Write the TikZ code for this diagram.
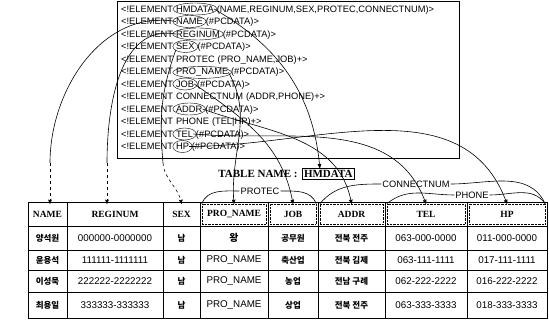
\documentclass[tikz,border=0pt]{standalone}
\usepackage{fontspec}
\setmainfont{Liberation Serif}
\setsansfont{Liberation Sans}
\newfontfamily\krfont{Noto Sans CJK KR}
\usepackage{tikz}
\usetikzlibrary{arrows,positioning,calc}

\begin{document}
\begin{tikzpicture}[x=1pt,y=1pt,>=stealth',
	dtd/.style={font=\sffamily\fontsize{9.3}{11}\selectfont,inner sep=0pt,anchor=west},
	head/.style={font=\bfseries\fontsize{9.5}{11}\selectfont,inner sep=0pt,minimum height=20pt},
	hbox/.style={head,draw,densely dotted},
	cell/.style={font=\sffamily\fontsize{9.8}{11}\selectfont,inner sep=0pt},
	kcell/.style={font=\krfont\bfseries\fontsize{8.5}{10}\selectfont,inner sep=0pt},
	brace/.style={font=\sffamily\fontsize{9.3}{11}\selectfont,inner sep=1pt},
	link/.style={->,semithick},
	dlink/.style={->,semithick,dashed}]
	
	\useasboundingbox (0,0) rectangle (549,-320);
	
	% DTD
	\draw[semithick] (117,-1) rectangle (459,-158);
	\node[dtd] (k1) at (121,-9) {<!ELEMENT};
	\node[dtd,base right=2.5pt of k1] (eHmdata) {HMDATA};
	\node[dtd,base right=2.5pt of eHmdata] (r1) {(NAME,REGINUM,SEX,PROTEC,CONNECTNUM)>};
	\node[dtd] (k2) at (121,-21.5) {<!ELEMENT};
	\node[dtd,base right=2.5pt of k2] (eName) {NAME};
	\node[dtd,base right=2.5pt of eName] (r2) {(\#PCDATA)>};
	\node[dtd] (k3) at (121,-34) {<!ELEMENT};
	\node[dtd,base right=2.5pt of k3] (eReg) {REGINUM};
	\node[dtd,base right=2.5pt of eReg] (r3) {(\#PCDATA)>};
	\node[dtd] (k4) at (121,-46.5) {<!ELEMENT};
	\node[dtd,base right=2.5pt of k4] (eSex) {SEX};
	\node[dtd,base right=2.5pt of eSex] (r4) {(\#PCDATA)>};
	\node[dtd] (k5) at (121,-59) {<!ELEMENT};
	\node[dtd,base right=2.5pt of k5] (eProtec) {PROTEC};
	\node[dtd,base right=2.5pt of eProtec] (r5) {(PRO\_NAME,JOB)+>};
	\node[dtd] (k6) at (121,-71.5) {<!ELEMENT};
	\node[dtd,base right=2.5pt of k6] (ePro) {PRO\_NAME};
	\node[dtd,base right=2.5pt of ePro] (r6) {(\#PCDATA)>};
	\node[dtd] (k7) at (121,-84) {<!ELEMENT};
	\node[dtd,base right=2.5pt of k7] (eJob) {JOB};
	\node[dtd,base right=2.5pt of eJob] (r7) {(\#PCDATA)>};
	\node[dtd] (k8) at (121,-96.5) {<!ELEMENT};
	\node[dtd,base right=2.5pt of k8] (eConn) {CONNECTNUM};
	\node[dtd,base right=2.5pt of eConn] (r8) {(ADDR,PHONE)+>};
	\node[dtd] (k9) at (121,-109) {<!ELEMENT};
	\node[dtd,base right=2.5pt of k9] (eAddr) {ADDR};
	\node[dtd,base right=2.5pt of eAddr] (r9) {(\#PCDATA)>};
	\node[dtd] (k10) at (121,-121.5) {<!ELEMENT};
	\node[dtd,base right=2.5pt of k10] (ePhone) {PHONE};
	\node[dtd,base right=2.5pt of ePhone] (r10) {(TEL|HP)+>};
	\node[dtd] (k11) at (121,-134) {<!ELEMENT};
	\node[dtd,base right=2.5pt of k11] (eTel) {TEL};
	\node[dtd,base right=2.5pt of eTel] (r11) {(\#PCDATA)>};
	\node[dtd] (k12) at (121,-146.5) {<!ELEMENT};
	\node[dtd,base right=2.5pt of k12] (eHp) {HP};
	\node[dtd,base right=2.5pt of eHp] (r12) {(\#PCDATA)>};
	
	\foreach \e in {eHmdata,eName,eReg,eSex,ePro,eJob,eAddr,eTel,eHp}
		\draw let \p1=($(\e.east)-(\e.west)$) in (\e.center) ellipse [x radius={0.5*\x1+3pt},y radius=6pt];
	
	% table name
	\node[font=\bfseries\fontsize{11}{13}\selectfont,inner sep=0pt] (tlabel) at (258,-174) {TABLE NAME :};
	\node[draw,font=\bfseries\fontsize{11}{13}\selectfont,inner sep=2pt,base right=4pt of tlabel] (tname) {HMDATA};
	
	% table
	\draw[thick] (28,-202) rectangle (547,-318);
	\foreach \y in {-226,-250,-270,-292}
		\draw[thick] (28,\y) -- (547,\y);
	\foreach \x in {67,163,200,268,318,385,467}
		\draw[thick] (\x,-202) -- (\x,-318);
	
	\node[head,minimum width=35pt] (hName) at (47.5,-214) {NAME};
	\node[head,minimum width=92pt] (hReg) at (115,-214) {REGINUM};
	\node[head,minimum width=33pt] (hSex) at (181.5,-214) {SEX};
	\node[hbox,minimum width=64pt] (hPro) at (234,-214) {PRO\_NAME};
	\node[hbox,minimum width=46pt] (hJob) at (293,-214) {JOB};
	\node[hbox,minimum width=63pt] (hAddr) at (351.5,-214) {ADDR};
	\node[hbox,minimum width=78pt] (hTel) at (426,-214) {TEL};
	\node[hbox,minimum width=76pt] (hHp) at (507,-214) {HP};
	
	\foreach \y/\nm/\rg/\pn/\jb/\ad/\tl/\hp [count=\i] in {
		-238/양석원/000000-0000000/{\krfont\bfseries 왕}/공무원/전북 전주/063-000-0000/011-000-0000,
		-260/윤용석/111111-1111111/PRO\_NAME/축산업/전북 김제/063-111-1111/017-111-1111,
		-281/이성묵/222222-2222222/PRO\_NAME/농업/전남 구례/062-222-2222/016-222-2222,
		-305/최용일/333333-333333/PRO\_NAME/상업/전북 전주/063-333-3333/018-333-3333}
	{
		\node[kcell] (n\i) at (47.5,\y) {\nm};
		\node[cell] (g\i) at (115,\y) {\rg};
		\node[kcell] (s\i) at (181.5,\y) {남};
		\node[cell] (p\i) at (234,\y) {\pn};
		\node[kcell] (j\i) at (293,\y) {\jb};
		\node[kcell] (a\i) at (351.5,\y) {\ad};
		\node[cell] (t\i) at (426,\y) {\tl};
		\node[cell] (h\i) at (507,\y) {\hp};
	}
	
	% group labels
	\node[brace] (lProtec) at (260,-191) {PROTEC};
	\node[brace] (lConn) at (416,-184) {CONNECTNUM};
	\node[brace] (lPhone) at (472,-195) {PHONE};
	\draw[semithick] (hPro.north west) to[out=70,in=180] (lProtec.west);
	\draw[semithick] (lProtec.east) to[out=0,in=110] (hJob.north east);
	\draw[semithick] (hAddr.north west) to[out=50,in=180] (lConn.west);
	\draw[semithick] (lConn.east) to[out=0,in=115] (hHp.north east);
	\draw[semithick] (hTel.north west) to[out=40,in=180] (lPhone.west);
	\draw[semithick] (lPhone.east) to[out=0,in=125] (hHp.north east);
	
	% links DTD -> table
	\coordinate (cName) at (50,-163);
	\coordinate (cReg) at (107,-163);
	\coordinate (cSex) at (163,-163);
	\draw[semithick] (eName.west) to[out=170,in=90] (cName);
	\draw[dlink] (cName) -- (cName |- hName.north);
	\draw[semithick] (eReg.west) to[out=170,in=90] (cReg);
	\draw[dlink] (cReg) -- (cReg |- hReg.north);
	\draw[semithick] (eSex.south west) to[out=-110,in=95] (cSex);
	\draw[dlink] (cSex) to[out=-85,in=100] (hSex.north);
	
	\draw[link] (eHmdata.east) to[out=-30,in=95] ([xshift=18pt]tname.north west);
	\draw[link] (ePro.east) to[out=-60,in=95] (hPro.north);
	\draw[link] (eJob.east) to[out=-35,in=100] (hJob.north);
	\draw[link] (eAddr.east) to[out=-20,in=100] (hAddr.north);
	\draw[link] (eTel.east) to[out=-5,in=110] (hTel.north);
	\draw[link] (eHp.east) to[out=0,in=110] (hHp.north);
\end{tikzpicture}
\end{document}
